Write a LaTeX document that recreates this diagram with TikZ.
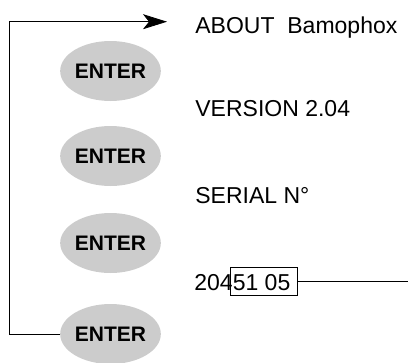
\documentclass[tikz,border=0pt]{standalone}
\usepackage{fontspec}
\setmainfont{Liberation Sans}
\usepackage{xcolor}
\usepackage{tikz}
\usetikzlibrary{arrows.meta,shapes.geometric}

\tikzset{
  enterkey/.style={ellipse, fill=gray!40, minimum width=99pt, minimum height=60pt,
    inner sep=0pt, font=\fontsize{21}{24}\selectfont\bfseries},
  menutext/.style={anchor=base west, inner sep=0pt, font=\fontsize{23}{27}\selectfont},
  serialbox/.style={draw, line width=0.8pt, minimum width=67pt, minimum height=28pt, inner sep=0pt},
}

\begin{document}
\begin{tikzpicture}[x=1pt,y=-1pt,line width=0.8pt]
        \useasboundingbox (0,0) rectangle (409,362);
        % keys
        \node[enterkey] (e1) at (110.5,71) {ENTER};
        \node[enterkey] (e2) at (110.5,156) {ENTER};
        \node[enterkey] (e3) at (110.5,243) {ENTER};
        \node[enterkey] (e4) at (110.5,334) {ENTER};
        % display lines
        \node[menutext] (about) at (195,33.3) {ABOUT\ \ Bamophox};
        \node[menutext] (version) at (195,116.7) {VERSION 2.04};
        \node[menutext] (serial) at (195,203) {SERIAL N°};
        \node[menutext] (number) at (194,290) {20451 05};
        \node[serialbox] (box) at (263.6,281.2) {};
        \coordinate (tip) at (167,21.7);
        \coordinate (out) at (408,281.2);
        % loop back to the top
        \draw[-{Stealth[length=24pt,width=15pt,inset=6pt]}] (e4.west) -- ++(-50,0) |- (tip);
        \draw (box.east) -- (out);
    \end{tikzpicture}
\end{document}
